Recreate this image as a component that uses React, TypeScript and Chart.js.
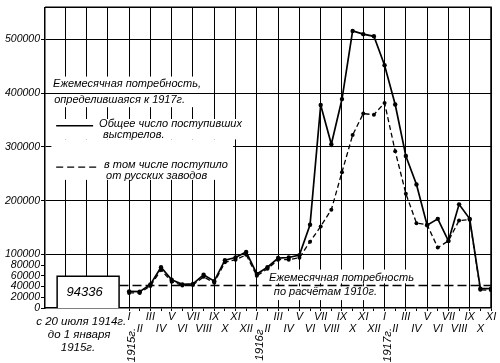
import { useEffect, useRef } from 'react';
import { Chart, registerables } from 'chart.js';

Chart.register(...registerables);

const FONT = '"Liberation Sans", Arial, sans-serif';

const monthNames = ['I', 'II', 'III', 'IV', 'V', 'VI', 'VII', 'VIII', 'IX', 'X', 'XI', 'XII'];
const yearLabels = ['1915г.', '1916г', '1917г.'];
const yTickValues = [0, 20000, 40000, 60000, 80000, 100000, 200000, 300000, 400000, 500000];

// 1915-I .. 1917-XI, monthly
const totalShots = [
  31000, 30500, 44000, 76000, 52500, 44000, 45000, 62000, 50000, 89000, 94000, 104500,
  63500, 76000, 93000, 94000, 98500, 155000, 378000, 305000, 389000, 516000, 510000, 506000,
  452000, 379000, 283000, 230000, 154000, 166000, 125000, 193000, 166000, 36000, 36000,
];
const russianShots = [
  28000, 28000, 41000, 71000, 49000, 42000, 43000, 58000, 47000, 85000, 90000, 99000,
  60000, 73000, 90000, 90000, 93500, 123500, 152000, 183000, 253000, 322000, 362000, 360000,
  382000, 292000, 213000, 158000, 155000, 112500, 125000, 163000, 164500, 34000, 33000,
];

const need1910 = 42000;
const need1917 = 400000;
const prewarOuter = 59000;
const prewarInner = 52700;
const prewarOuterSpan = [-6.76, -0.94];
const prewarInnerSpan = [-6.54, -1.13];
const prewarLabel = '94336';
const need1910Span = [-0.9, 34];

const annotPlugin = {
  id: 'annot',
  beforeDatasetsDraw(chart: any) {
    const { ctx, scales, chartArea } = chart;
    const X = (v: number) => scales.x.getPixelForValue(v);
    const Y = (v: number) => scales.y.getPixelForValue(v);
    ctx.save();
    ctx.fillStyle = '#fff';
    const rect = (x0: number, x1: number, y0: number, y1: number) =>
      ctx.fillRect(X(x0), Y(y0), X(x1) - X(x0), Y(y1) - Y(y0));
    rect(-7.3, 6.8, 431000, 374000);
    rect(-7.3, 10.8, 352000, 314000);
    rect(-7.3, 9.77, 314000, 238600);
    rect(12.9, 26.9, 71600, 45900);
    rect(13.3, 23.2, 40400, 14700);
    ctx.strokeStyle = '#000';
    ctx.lineWidth = 1;
    const yy = Math.round(Y(need1917)) + 0.5;
    ctx.beginPath();
    ctx.moveTo(chartArea.left, yy);
    ctx.lineTo(chartArea.right, yy);
    ctx.stroke();
    ctx.restore();
  },
  afterDatasetsDraw(chart: any) {
    const { ctx, scales, chartArea } = chart;
    const X = (v: number) => scales.x.getPixelForValue(v);
    const Y = (v: number) => scales.y.getPixelForValue(v);
    ctx.save();
    ctx.fillStyle = '#000';
    ctx.strokeStyle = '#000';
    ctx.textBaseline = 'middle';
    ctx.textAlign = 'left';
    ctx.font = `italic 11px ${FONT}`;
    ctx.fillText('Ежемесячная потребность,', X(-7.14), Y(418000));
    ctx.fillText('определившаяся к 1917г.', X(-7.04), Y(387000));
    ctx.fillText('Общее число поступивших', X(-2.82), Y(343000));
    ctx.fillText('выстрелов.', X(-2.44), Y(323000));
    ctx.fillText('в том числе поступило', X(-2.35), Y(266000));
    ctx.fillText('от русских заводов', X(-2.16), Y(246000));
    ctx.fillText('Ежемесячная потребность', X(13.15), Y(56900));
    ctx.fillText('по расчётам 1910г.', X(13.6), Y(29400));
    // legend samples
    ctx.lineWidth = 1.6;
    ctx.beginPath();
    ctx.moveTo(X(-6.85), Y(339500));
    ctx.lineTo(X(-3.38), Y(339500));
    ctx.stroke();
    ctx.setLineDash([7, 4]);
    ctx.lineWidth = 1.4;
    ctx.beginPath();
    ctx.moveTo(X(-6.85), Y(262400));
    ctx.lineTo(X(-3.0), Y(262400));
    ctx.stroke();
    ctx.setLineDash([]);
    // box label
    ctx.textAlign = 'center';
    ctx.font = `italic 13px ${FONT}`;
    ctx.fillText(prewarLabel, X(-4.18), Y(29400));
    // below axis: pre-war period label
    ctx.font = `italic 11.5px ${FONT}`;
    const b = chartArea.bottom;
    ctx.fillText('с 20 июля 1914г.', X(-4.5), b + 14);
    ctx.fillText('до 1 января', X(-4.7), b + 27);
    ctx.fillText('1915г.', X(-4.8), b + 40);
    // rotated year labels
    yearLabels.forEach((lbl, k) => {
      ctx.save();
      ctx.translate(X(k * 12 + 0.3), b + 37);
      ctx.rotate(-Math.PI / 2);
      ctx.fillText(lbl, 0, 0);
      ctx.restore();
    });
    // frame
    ctx.lineWidth = 1.5;
    ctx.beginPath();
    ctx.moveTo(chartArea.left, chartArea.top);
    ctx.lineTo(chartArea.right, chartArea.top);
    ctx.lineTo(chartArea.right, chartArea.bottom);
    ctx.stroke();
    ctx.restore();
  },
};

export default function App() {
  const ref = useRef<HTMLCanvasElement>(null);
  useEffect(() => {
    if (!ref.current) return;
    const box = (span: number[], v: number) => [
      { x: span[0], y: 0 },
      { x: span[0], y: v },
      { x: span[1], y: v },
      { x: span[1], y: 0 },
    ];
    const chart = new Chart(ref.current, {
      type: 'line',
      data: {
        datasets: [
          {
            label: 'Общее число поступивших выстрелов',
            data: totalShots.map((v, i) => ({ x: i, y: v })),
            borderColor: '#000',
            borderWidth: 1.7,
            pointRadius: 2.2,
            pointBackgroundColor: '#000',
            pointBorderWidth: 0,
            tension: 0,
          },
          {
            label: 'в том числе поступило от русских заводов',
            data: russianShots.map((v, i) => ({ x: i, y: v })),
            borderColor: '#000',
            borderWidth: 1.3,
            borderDash: [5, 3],
            pointRadius: 2,
            pointBackgroundColor: '#000',
            pointBorderWidth: 0,
            tension: 0,
          },
          {
            label: 'Ежемесячная потребность по расчётам 1910г.',
            data: need1910Span.map((x) => ({ x, y: need1910 })),
            borderColor: '#000',
            borderWidth: 1.5,
            borderDash: [9, 4],
            pointRadius: 0,
          },
          {
            label: 'prewar outer',
            data: box(prewarOuterSpan, prewarOuter),
            borderColor: '#000',
            borderWidth: 1.5,
            backgroundColor: '#fff',
            fill: 'origin',
            pointRadius: 0,
          },
          {
            label: 'prewar inner',
            data: box(prewarInnerSpan, prewarInner),
            borderColor: '#000',
            borderWidth: 1,
            borderDash: [4, 2],
            pointRadius: 0,
          },
        ],
      },
      options: {
        animation: false,
        responsive: false,
        layout: { padding: { top: 3, right: 9, left: 0, bottom: 0 } },
        plugins: { legend: { display: false }, tooltip: { enabled: false } },
        scales: {
          x: {
            type: 'linear',
            min: -7.9,
            max: 34,
            afterBuildTicks: (s: any) => {
              const t = [];
              for (let i = -6; i <= 34; i++) t.push({ value: i });
              s.ticks = t;
            },
            afterFit: (s: any) => {
              s.height = 55;
            },
            grid: {
              color: (c: any) => (c.tick && Math.abs(c.tick.value % 2) === 0 ? '#000' : 'rgba(0,0,0,0)'),
              tickColor: (c: any) => (c.tick && c.tick.value >= 0 ? '#000' : 'rgba(0,0,0,0)'),
              tickLength: 3,
              lineWidth: 1,
            },
            border: { color: '#000', width: 1.5 },
            ticks: {
              autoSkip: false,
              maxRotation: 0,
              minRotation: 0,
              padding: 0,
              color: '#000',
              font: { family: FONT, style: 'italic', size: 11, lineHeight: 1.1 },
              callback: (v: any) => {
                const i = Number(v);
                if (i < 0) return '';
                const m = i % 12;
                return m % 2 === 0 ? monthNames[m] : ['', monthNames[m]];
              },
            },
          },
          y: {
            min: 0,
            max: 560000,
            afterBuildTicks: (s: any) => {
              s.ticks = yTickValues.map((v) => ({ value: v }));
            },
            afterFit: (s: any) => {
              s.width = 45;
            },
            grid: {
              color: (c: any) => (c.tick && c.tick.value >= 100000 ? '#000' : 'rgba(0,0,0,0)'),
              tickColor: '#000',
              tickLength: 4,
              lineWidth: 1,
            },
            border: { color: '#000', width: 1.5 },
            ticks: {
              autoSkip: false,
              padding: 1,
              color: '#000',
              font: { family: FONT, style: 'italic', size: 10.5 },
              callback: (v: any) => String(v),
            },
          },
        },
      },
      plugins: [annotPlugin],
    } as any);
    return () => chart.destroy();
  }, []);
  return (
    <div style={{ position: 'fixed', left: 0, top: 0, width: 500, height: 363, background: '#fff' }}>
      <canvas ref={ref} width={500} height={363} style={{ width: 500, height: 363, display: 'block' }} />
    </div>
  );
}
